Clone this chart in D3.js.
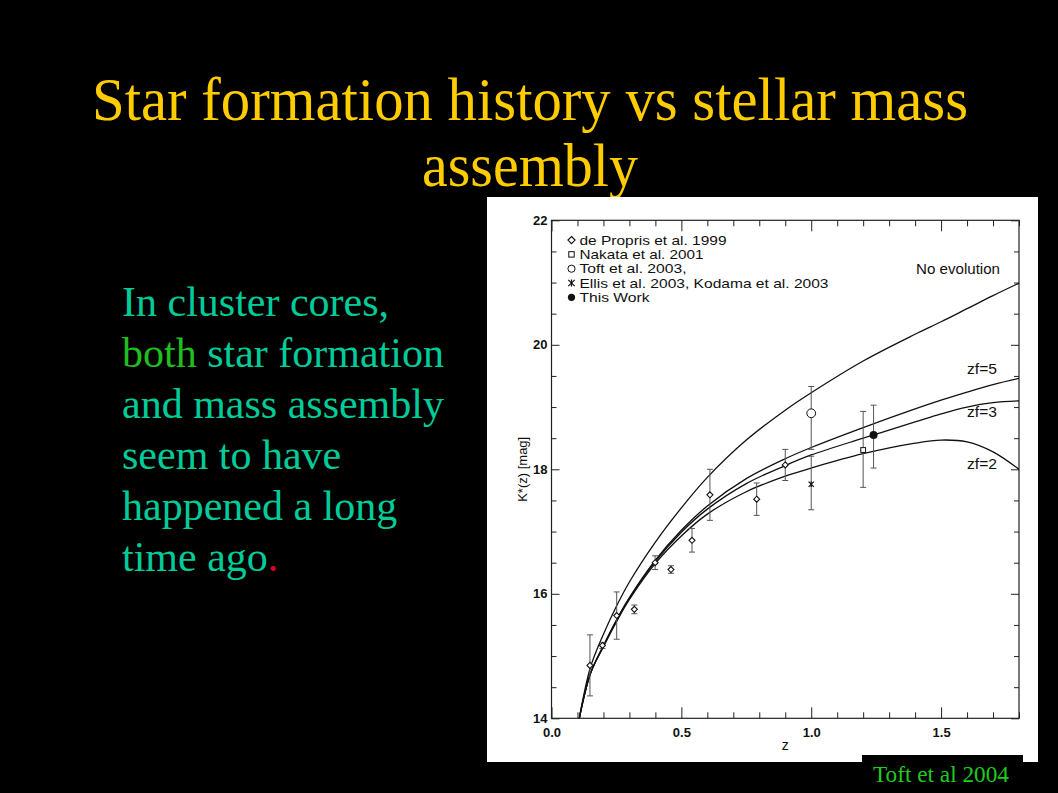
<!DOCTYPE html>
<html>
<head>
<meta charset="utf-8">
<script src="https://cdn.jsdelivr.net/npm/d3@7"></script>
<style>
  html, body { margin: 0; padding: 0; background: #000; }
  svg { display: block; }
</style>
</head>
<body>
<svg id="chart" width="1058" height="793"></svg>
<script>
// ---------------- data ----------------
const titleLines = ["Star formation history vs stellar mass", "assembly"];
const bodyLines = [
  [["In cluster cores,", "teal"]],
  [["both", "green"], [" star formation", "teal"]],
  [["and mass assembly", "teal"]],
  [["seem to have", "teal"]],
  [["happened a long", "teal"]],
  [["time ago", "teal"], [".", "red"]]
];
const creditText = "Toft et al 2004";

const xTicks = [0.0, 0.5, 1.0, 1.5];
const yTicks = [14, 16, 18, 20, 22];
const xLabel = "z";
const yLabel = "K*(z) [mag]";

// model curves (sampled from the figure)
const modelZ      = [0.107, 0.15, 0.2, 0.25, 0.3, 0.4, 0.5, 0.6, 0.75, 0.9, 1.0, 1.2, 1.4, 1.5, 1.6, 1.7, 1.8];
const noEvolution = [14.0, 14.82, 15.35, 15.80, 16.19, 16.83, 17.38, 17.87, 18.47, 18.95, 19.23, 19.74, 20.17, 20.37, 20.58, 20.79, 20.99];
const zf5         = [14.0, 14.72, 15.17, 15.58, 15.94, 16.54, 17.02, 17.41, 17.85, 18.17, 18.35, 18.67, 18.97, 19.11, 19.24, 19.36, 19.46];
const zf3         = [14.0, 14.72, 15.16, 15.57, 15.93, 16.52, 16.99, 17.36, 17.77, 18.06, 18.23, 18.50, 18.76, 18.89, 19.00, 19.07, 19.10];
const zf2         = [14.0, 14.72, 15.15, 15.55, 15.91, 16.49, 16.93, 17.28, 17.64, 17.89, 18.02, 18.25, 18.42, 18.47, 18.44, 18.28, 18.00];
const curveNames  = ["No evolution", "zf=5", "zf=3", "zf=2"];

// observations
const dePropZ   = [0.148, 0.196, 0.251, 0.319, 0.399, 0.46, 0.541, 0.61, 0.79, 0.90];
const dePropK   = [14.85, 15.17, 15.65, 15.75, 16.50, 16.39, 16.86, 17.59, 17.52, 18.07];
const dePropErr = [0.49, 0.05, 0.38, 0.07, 0.11, 0.06, 0.19, 0.41, 0.26, 0.25];

const nakataZ = [1.20],  nakataK = [18.31], nakataLo = [17.71], nakataHi = [18.93];
const toftZ   = [1.00],  toftK   = [18.90], toftLo   = [18.32], toftHi   = [19.33];
const ellisZ  = [1.00],  ellisK  = [17.76], ellisLo  = [17.35], ellisHi  = [18.21];
const thisZ   = [1.24],  thisK   = [18.55], thisLo   = [18.02], thisHi   = [19.03];

const legendLabels = ["de Propris et al. 1999", "Nakata et al. 2001", "Toft et al. 2003,",
                      "Ellis et al. 2003, Kodama et al. 2003", "This Work"];
const legendSymbols = ["diamond", "square", "circle", "asterisk", "filled"];

// ---------------- layout ----------------
const svg = d3.select("#chart");
svg.append("rect").attr("width", 1058).attr("height", 793).attr("fill", "#000");

const COLORS = { gold: "#ffcc00", teal: "#00cc99", green: "#1fbf1f", red: "#e0002a", credit: "#1ecc1e" };
const serif = "'Liberation Serif', 'Times New Roman', serif";
const sans = "'Liberation Sans', Arial, sans-serif";

// title
const titleY = [119.5, 186];
const titleLen = [876, 216];
titleLines.forEach((t, i) => {
  svg.append("text")
    .attr("x", 530).attr("y", titleY[i])
    .attr("text-anchor", "middle")
    .attr("textLength", titleLen[i]).attr("lengthAdjust", "spacingAndGlyphs")
    .attr("font-family", serif)
    .attr("font-size", 61)
    .attr("fill", COLORS.gold)
    .text(t);
});

// body text
bodyLines.forEach((parts, i) => {
  const tx = svg.append("text")
    .attr("x", 122).attr("y", 316 + i * 51)
    .attr("font-family", serif)
    .attr("font-size", 42)
    .style("white-space", "pre");
  parts.forEach(([s, c]) => tx.append("tspan").attr("fill", COLORS[c]).text(s));
});

// white panel
svg.append("rect").attr("x", 487).attr("y", 197).attr("width", 551).attr("height", 565).attr("fill", "#fff");

// scales
const x = d3.scaleLinear().domain([0, 1.8]).range([551.5, 1019]);
const y = d3.scaleLinear().domain([14, 22]).range([718.3, 220.3]);
const [x0, x1] = x.range();
const [y0, y1] = y.range();

const g = svg.append("g");

svg.append("defs").append("clipPath").attr("id", "plotclip")
  .append("rect").attr("x", x0).attr("y", y1).attr("width", x1 - x0).attr("height", y0 - y1);

// axes
const xMinor = d3.range(0, 1.8001, 0.1).map(v => +v.toFixed(2)).filter(v => !xTicks.some(t => Math.abs(t - v) < 1e-6));
const yMinor = d3.range(14, 22.001, 0.5).filter(v => !yTicks.includes(v));

function styleAxis(sel) {
  sel.select(".domain").remove();
  sel.selectAll("line").attr("stroke", "#222").attr("stroke-width", 1);
  sel.selectAll("text").attr("font-family", sans).attr("font-size", 13)
     .attr("font-weight", "bold").attr("fill", "#111");
}

g.append("g").attr("transform", `translate(0,${y0})`)
  .call(d3.axisBottom(x).tickValues(xTicks).tickFormat(d3.format(".1f")).tickSizeInner(-11).tickSizeOuter(0).tickPadding(9))
  .call(styleAxis);
g.append("g").attr("transform", `translate(0,${y0})`)
  .call(d3.axisBottom(x).tickValues(xMinor).tickFormat("").tickSizeInner(-6).tickSizeOuter(0))
  .call(styleAxis);
g.append("g").attr("transform", `translate(0,${y1})`)
  .call(d3.axisTop(x).tickValues(xTicks).tickFormat("").tickSizeInner(-11).tickSizeOuter(0))
  .call(styleAxis);
g.append("g").attr("transform", `translate(0,${y1})`)
  .call(d3.axisTop(x).tickValues(xMinor).tickFormat("").tickSizeInner(-6).tickSizeOuter(0))
  .call(styleAxis);

g.append("g").attr("transform", `translate(${x0},0)`)
  .call(d3.axisLeft(y).tickValues(yTicks).tickFormat(d3.format("d")).tickSizeInner(-8).tickSizeOuter(0).tickPadding(4))
  .call(styleAxis);
g.append("g").attr("transform", `translate(${x0},0)`)
  .call(d3.axisLeft(y).tickValues(yMinor).tickFormat("").tickSizeInner(-5).tickSizeOuter(0))
  .call(styleAxis);
g.append("g").attr("transform", `translate(${x1},0)`)
  .call(d3.axisRight(y).tickValues(yTicks).tickFormat("").tickSizeInner(-8).tickSizeOuter(0))
  .call(styleAxis);
g.append("g").attr("transform", `translate(${x1},0)`)
  .call(d3.axisRight(y).tickValues(yMinor).tickFormat("").tickSizeInner(-5).tickSizeOuter(0))
  .call(styleAxis);

// frame
g.append("rect").attr("x", x0).attr("y", y1).attr("width", x1 - x0).attr("height", y0 - y1)
  .attr("fill", "none").attr("stroke", "#222").attr("stroke-width", 1.2);

// axis labels
g.append("text").attr("x", (x0 + x1) / 2).attr("y", 750).attr("text-anchor", "middle")
  .attr("font-family", sans).attr("font-size", 14).attr("fill", "#111").text(xLabel);
g.append("text").attr("transform", `translate(527,${(y0 + y1) / 2}) rotate(-90)`).attr("text-anchor", "middle")
  .attr("font-family", sans).attr("font-size", 13).attr("fill", "#111")
  .attr("textLength", 65).attr("lengthAdjust", "spacingAndGlyphs").text(yLabel);

// model curves
const line = d3.line().x(d => x(d[0])).y(d => y(d[1])).curve(d3.curveCatmullRom.alpha(0.5));
const curves = [noEvolution, zf5, zf3, zf2];
const cg = g.append("g").attr("clip-path", "url(#plotclip)");
curves.forEach(vals => {
  cg.append("path").datum(modelZ.map((z, i) => [z, vals[i]]))
    .attr("d", line).attr("fill", "none").attr("stroke", "#111").attr("stroke-width", 1.3);
});

// curve labels
const labelPos = [[916, 274.3], [967, 374.3], [967, 417.3], [967, 469.3]];
const labelLen = [84, 30, 30, 30];
curveNames.forEach((n, i) => {
  g.append("text").attr("x", labelPos[i][0]).attr("y", labelPos[i][1])
    .attr("font-family", sans).attr("font-size", 14.5).attr("fill", "#111")
    .attr("textLength", labelLen[i]).attr("lengthAdjust", "spacingAndGlyphs").text(n);
});

// error bars
function errorBar(zv, lo, hi) {
  const cx = x(zv);
  const eb = g.append("g").attr("stroke", "#555").attr("stroke-width", 1);
  eb.append("line").attr("x1", cx).attr("x2", cx).attr("y1", y(lo)).attr("y2", y(hi));
  eb.append("line").attr("x1", cx - 3).attr("x2", cx + 3).attr("y1", y(lo)).attr("y2", y(lo));
  eb.append("line").attr("x1", cx - 3).attr("x2", cx + 3).attr("y1", y(hi)).attr("y2", y(hi));
}

function symbol(parent, type, cx, cy, s) {
  const st = "#111";
  if (type === "diamond") {
    parent.append("path").attr("d", `M${cx},${cy - s}L${cx + s},${cy}L${cx},${cy + s}L${cx - s},${cy}Z`)
      .attr("fill", "#fff").attr("stroke", st).attr("stroke-width", 1.1);
  } else if (type === "square") {
    parent.append("rect").attr("x", cx - s * 0.8).attr("y", cy - s * 0.8).attr("width", s * 1.6).attr("height", s * 1.6)
      .attr("fill", "#fff").attr("stroke", st).attr("stroke-width", 1);
  } else if (type === "circle") {
    parent.append("circle").attr("cx", cx).attr("cy", cy).attr("r", s)
      .attr("fill", "#fff").attr("stroke", st).attr("stroke-width", 1);
  } else if (type === "filled") {
    parent.append("circle").attr("cx", cx).attr("cy", cy).attr("r", s).attr("fill", st);
  } else if (type === "asterisk") {
    const a = parent.append("g").attr("stroke", st).attr("stroke-width", 1.2);
    a.append("line").attr("x1", cx - s).attr("x2", cx + s).attr("y1", cy - s).attr("y2", cy + s);
    a.append("line").attr("x1", cx - s).attr("x2", cx + s).attr("y1", cy + s).attr("y2", cy - s);
    a.append("line").attr("x1", cx).attr("x2", cx).attr("y1", cy - s * 1.1).attr("y2", cy + s * 1.1);
  }
}

dePropZ.forEach((z, i) => errorBar(z, dePropK[i] - dePropErr[i], dePropK[i] + dePropErr[i]));
nakataZ.forEach((z, i) => errorBar(z, nakataLo[i], nakataHi[i]));
toftZ.forEach((z, i) => errorBar(z, toftLo[i], toftHi[i]));
ellisZ.forEach((z, i) => errorBar(z, ellisLo[i], ellisHi[i]));
thisZ.forEach((z, i) => errorBar(z, thisLo[i], thisHi[i]));

const pg = g.append("g");
dePropZ.forEach((z, i) => symbol(pg, "diamond", x(z), y(dePropK[i]), 3));
nakataZ.forEach((z, i) => symbol(pg, "square", x(z), y(nakataK[i]), 3));
toftZ.forEach((z, i) => symbol(pg, "circle", x(z), y(toftK[i]), 4.4));
ellisZ.forEach((z, i) => symbol(pg, "asterisk", x(z), y(ellisK[i]), 2.6));
thisZ.forEach((z, i) => symbol(pg, "filled", x(z), y(thisK[i]), 4));

// legend
const legendLen = [147, 124, 107, 249, 70];
const lg = g.append("g");
legendLabels.forEach((lab, i) => {
  const by = 244.7 + i * 14.3;
  const sym = legendSymbols[i];
  const sz = sym === "diamond" ? 3.6 : sym === "square" ? 3.4 : sym === "asterisk" ? 3.2 : 3.6;
  symbol(lg, sym, 571.5, by - 4.6, sz);
  lg.append("text").attr("x", 579.5).attr("y", by)
    .attr("font-family", sans).attr("font-size", 12.4).attr("fill", "#111")
    .attr("textLength", legendLen[i]).attr("lengthAdjust", "spacingAndGlyphs").text(lab);
});

// credit box
svg.append("rect").attr("x", 862).attr("y", 755).attr("width", 161).attr("height", 38).attr("fill", "#000");
svg.append("text").attr("x", 873).attr("y", 782)
  .attr("font-family", serif).attr("font-size", 23)
  .attr("textLength", 136).attr("lengthAdjust", "spacingAndGlyphs")
  .attr("fill", COLORS.credit).text(creditText);
</script>
</body>
</html>
